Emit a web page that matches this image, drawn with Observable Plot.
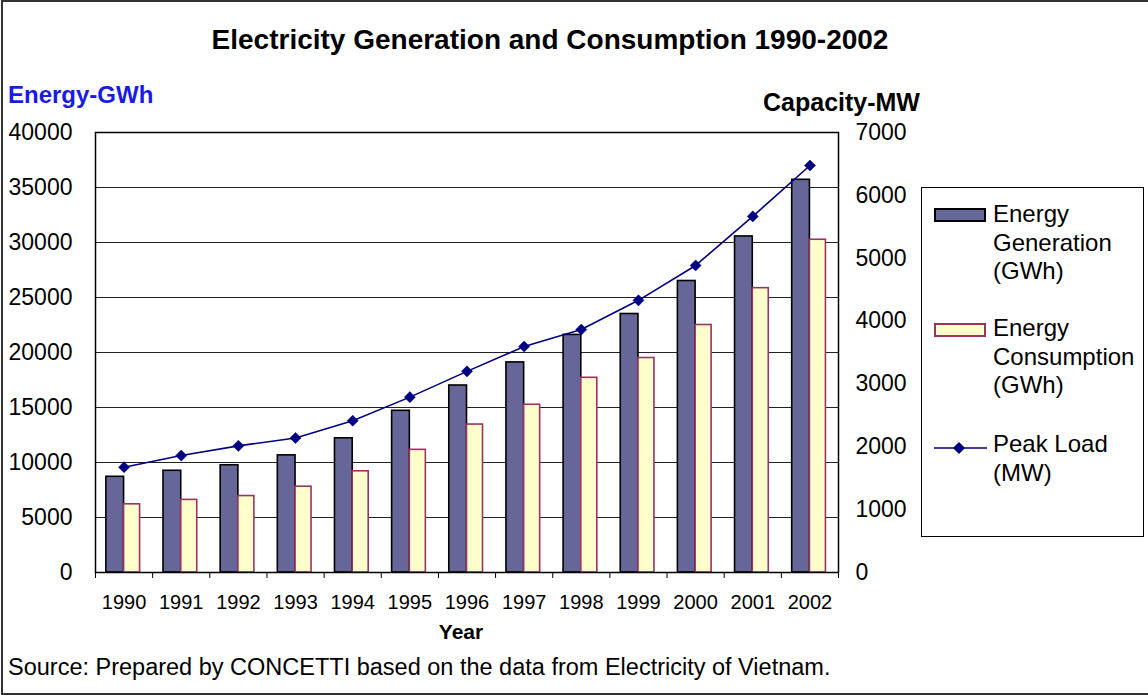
<!DOCTYPE html>
<html>
<head>
<meta charset="utf-8">
<script src="https://cdn.jsdelivr.net/npm/d3@7"></script>
<script src="https://cdn.jsdelivr.net/npm/@observablehq/plot@0.6"></script>
<style>
  html, body { margin: 0; padding: 0; background: #fff; }
  #wrap { position: relative; width: 1148px; height: 695px; overflow: hidden; font-family: "Liberation Sans", Arial, sans-serif; color: #000; }
  #border { position: absolute; left: 1px; top: 0; width: 1152px; height: 695px; border: 2px solid #333; box-sizing: border-box; }
  .t { position: absolute; white-space: nowrap; line-height: 1; }
  #chart { position: absolute; left: 0; top: 0; }
  #legend { position: absolute; left: 921px; top: 187px; width: 223px; height: 350px; border: 1px solid #000; box-sizing: border-box; background: #fff; }
  .lt { position: absolute; left: 993px; font-size: 24px; line-height: 28.7px; white-space: nowrap; }
  .sw { position: absolute; left: 934px; width: 52px; height: 14px; box-sizing: border-box; }
</style>
</head>
<body>
<div id="wrap">
  <div id="chart"></div>
  <div id="border"></div>
  <div class="t" id="title" style="left:0;width:1100px;text-align:center;top:26px;font-size:28px;font-weight:bold;">Electricity Generation and Consumption 1990-2002</div>
  <div class="t" style="left:8px;top:83px;font-size:24px;font-weight:bold;color:#1a1ae6;">Energy-GWh</div>
  <div class="t" style="left:763px;top:90px;font-size:25px;font-weight:bold;">Capacity-MW</div>
  <div class="t" style="left:0;width:922px;text-align:center;top:621px;font-size:21px;font-weight:bold;">Year</div>
  <div class="t" style="left:8px;top:656px;font-size:23.5px;">Source: Prepared by CONCETTI based on the data from Electricity of Vietnam.</div>
  <div id="legend"></div>
  <div class="sw" style="top:208px;background:#666699;border:2px solid #000;"></div>
  <div class="lt" style="top:200px;">Energy<br>Generation<br>(GWh)</div>
  <div class="sw" style="top:323px;background:#ffffcc;border:2px solid #993366;"></div>
  <div class="lt" style="top:314px;">Energy<br>Consumption<br>(GWh)</div>
  <svg style="position:absolute;left:934px;top:440px;" width="54" height="16">
    <line x1="0" y1="8" x2="53" y2="8" stroke="#000080" stroke-width="1.5"></line>
    <path d="M25,2 L31,8 L25,14 L19,8 Z" fill="#000080"></path>
  </svg>
  <div class="lt" style="top:430px;">Peak Load<br>(MW)</div>
</div>
<script>
const years = [1990, 1991, 1992, 1993, 1994, 1995, 1996, 1997, 1998, 1999, 2000, 2001, 2002];
const generation = [8700, 9250, 9750, 10650, 12200, 14700, 17000, 19100, 21600, 23500, 26500, 30550, 35700];
const consumption = [6200, 6600, 6950, 7800, 9200, 11150, 13450, 15250, 17700, 19500, 22500, 25850, 30250];
const peakLoad = [1675, 1860, 2015, 2140, 2415, 2790, 3200, 3595, 3865, 4330, 4885, 5665, 6475];
const leftTicks = [0, 5000, 10000, 15000, 20000, 25000, 30000, 35000, 40000];
const rightTicks = [0, 1000, 2000, 3000, 4000, 5000, 6000, 7000];

const ENERGY_MAX = 40000, MW_MAX = 7000;
const toLeft = v => v * ENERGY_MAX / MW_MAX;

const rows = years.map((y, i) => ({year: y, gen: generation[i], cons: consumption[i], peak: peakLoad[i]}));
const boundaries = d3.range(years[0] - 0.5, years[years.length - 1] + 1, 1);

const chart = Plot.plot({
  width: 1148,
  height: 695,
  marginLeft: 95,
  marginRight: 310,
  marginTop: 132,
  marginBottom: 123,
  style: {fontFamily: "'Liberation Sans', Arial, sans-serif", color: "#000", background: "transparent", overflow: "visible"},
  x: {type: "linear", domain: [years[0] - 0.5, years[years.length - 1] + 0.5], axis: null},
  y: {domain: [0, ENERGY_MAX], axis: null},
  marks: [
    Plot.ruleY(leftTicks.filter(d => d > 0 && d < ENERGY_MAX), {stroke: "#222", strokeWidth: 1}),
    Plot.rectY(rows, {x1: d => d.year - 0.31, x2: d => d.year, y1: 0, y2: "gen", fill: "#666699", stroke: "#000", strokeWidth: 1.6}),
    Plot.rectY(rows, {x1: d => d.year, x2: d => d.year + 0.28, y1: 0, y2: "cons", fill: "#ffffcc", stroke: "#993366", strokeWidth: 1.6}),
    Plot.line(rows, {x: "year", y: d => toLeft(d.peak), stroke: "#000080", strokeWidth: 1.6}),
    Plot.dot(rows, {x: "year", y: d => toLeft(d.peak), symbol: "diamond2", r: 5, fill: "#000080", stroke: "#000080", strokeWidth: 0.5}),
    Plot.frame({stroke: "#000", strokeWidth: 1.5}),
    Plot.axisY(leftTicks, {anchor: "left", tickSize: 0, tickPadding: 23, fontSize: 23, tickFormat: d => String(d), label: null}),
    Plot.axisY(rightTicks.map(toLeft), {anchor: "right", tickSize: 0, tickPadding: 17, fontSize: 23, tickFormat: d => String(Math.round(d * MW_MAX / ENERGY_MAX)), label: null}),
    Plot.axisX(years, {anchor: "bottom", tickSize: 0, tickPadding: 22, fontSize: 20, tickFormat: d => String(d), label: null}),
    Plot.axisX(boundaries, {anchor: "bottom", tickSize: 6, tickFormat: () => "", label: null, stroke: "#000"})
  ]
});
document.getElementById("chart").appendChild(chart);
</script>
</body>
</html>
